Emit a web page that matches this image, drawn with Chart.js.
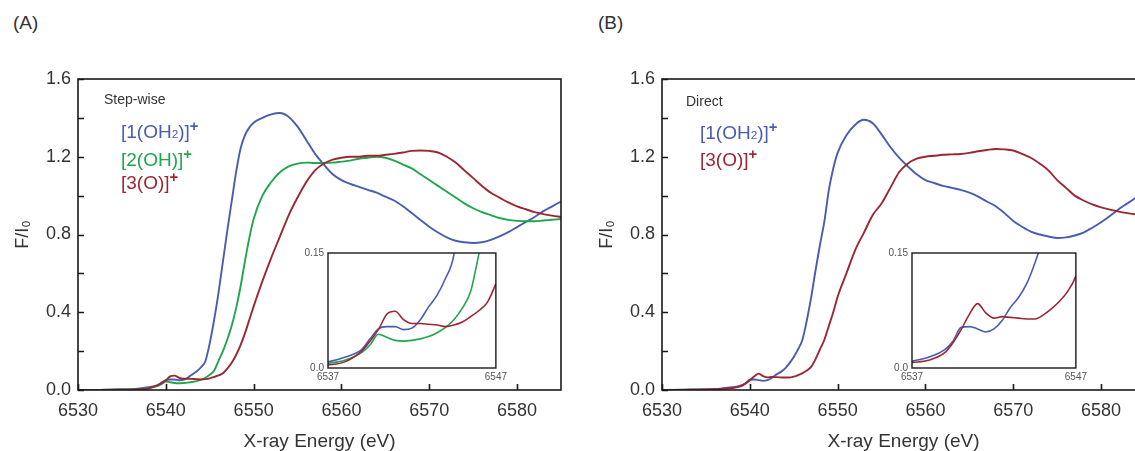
<!DOCTYPE html>
<html>
<head>
<meta charset="utf-8">
<script src="https://cdn.jsdelivr.net/npm/chart.js@4/dist/chart.umd.min.js"></script>
<style>
  body { margin: 0; width: 1135px; height: 451px; overflow: hidden; background: #fff; position: relative;
         font-family: "Liberation Sans", Arial, sans-serif; color: #333; }
  canvas { position: absolute; }
  .t { position: absolute; white-space: nowrap; line-height: 1; }
  .t sub { font-size: 62%; vertical-align: 0.05em; }
  .t sup { font-size: 78%; font-weight: bold; vertical-align: 0.5em; }
  .blue { color: #4a5cb2; } .green { color: #20a64e; } .red { color: #9b2733; }
</style>
</head>
<body>
<div class="t" style="left:13px;top:13px;font-size:19px;">(A)</div>
<div class="t" style="left:598px;top:13px;font-size:19px;">(B)</div>

<canvas id="mainA" width="575" height="451" style="left:0;top:0"></canvas>
<canvas id="insetA" width="220" height="150" style="left:290px;top:240px"></canvas>
<canvas id="mainB" width="575" height="451" style="left:584px;top:0"></canvas>
<canvas id="insetB" width="220" height="150" style="left:870px;top:240px"></canvas>

<div class="t" style="left:104px;top:92px;font-size:14px;">Step-wise</div>
<div class="t blue" style="left:121px;top:119px;font-size:19px;">[1(OH<sub>2</sub>)]<sup>+</sup></div>
<div class="t green" style="left:121px;top:147px;font-size:19px;">[2(OH)]<sup>+</sup></div>
<div class="t red" style="left:121px;top:170px;font-size:19px;">[3(O)]<sup>+</sup></div>

<div class="t" style="left:686px;top:94px;font-size:14px;">Direct</div>
<div class="t blue" style="left:700px;top:120px;font-size:19px;">[1(OH<sub>2</sub>)]<sup>+</sup></div>
<div class="t red" style="left:700px;top:147px;font-size:19px;">[3(O)]<sup>+</sup></div>

<script>
// energy grid (eV)
const energy = [6530, 6532, 6534, 6536, 6537, 6538, 6539,
  6539.5, 6540, 6540.5, 6541, 6541.5, 6542, 6542.5, 6543, 6543.5, 6544, 6544.5, 6545,
  6545.5, 6546, 6546.5, 6547, 6547.5, 6548, 6548.5, 6549, 6549.5, 6550,
  6551, 6552, 6553, 6554, 6555, 6556, 6557, 6558, 6559, 6560,
  6561, 6562, 6563, 6564, 6565, 6566, 6567, 6568, 6569, 6570,
  6571, 6572, 6573, 6574, 6575, 6576, 6577, 6578, 6579, 6580,
  6581, 6582, 6583, 6584, 6585];

// panel A, step-wise
const stepOH2 = [0, 0, 0.002, 0.004, 0.008, 0.014, 0.024,
  0.038, 0.051, 0.054, 0.054, 0.050, 0.052, 0.063, 0.080, 0.095, 0.117, 0.148, 0.24,
  0.36, 0.50, 0.66, 0.82, 0.97, 1.12, 1.24, 1.31, 1.35, 1.375,
  1.40, 1.418, 1.425, 1.405, 1.355, 1.285, 1.215, 1.16, 1.11, 1.08,
  1.06, 1.045, 1.03, 1.015, 0.995, 0.975, 0.945, 0.91, 0.875, 0.84,
  0.81, 0.785, 0.768, 0.76, 0.756, 0.76, 0.772, 0.79, 0.812, 0.838,
  0.865, 0.89, 0.92, 0.945, 0.97];
const stepOH = [0, 0, 0.002, 0.003, 0.006, 0.010, 0.020,
  0.030, 0.044, 0.040, 0.036, 0.035, 0.036, 0.038, 0.041, 0.046, 0.053, 0.063, 0.078,
  0.10, 0.15, 0.20, 0.26, 0.33, 0.42, 0.53, 0.66, 0.78, 0.88,
  1.00, 1.07, 1.12, 1.15, 1.165, 1.17, 1.168, 1.168, 1.17, 1.175,
  1.18, 1.19, 1.195, 1.20, 1.195, 1.18, 1.16, 1.14, 1.11, 1.08,
  1.05, 1.02, 0.99, 0.96, 0.935, 0.915, 0.90, 0.885, 0.875, 0.87,
  0.868, 0.868, 0.872, 0.876, 0.88];
const stepO = [0, 0, 0.001, 0.002, 0.004, 0.008, 0.022,
  0.035, 0.050, 0.070, 0.074, 0.063, 0.058, 0.058, 0.057, 0.056, 0.054, 0.056, 0.060,
  0.067, 0.075, 0.086, 0.11, 0.14, 0.18, 0.23, 0.29, 0.36, 0.43,
  0.56, 0.68, 0.79, 0.90, 0.99, 1.07, 1.13, 1.165, 1.185, 1.195,
  1.20, 1.20, 1.205, 1.205, 1.21, 1.215, 1.222, 1.23, 1.232, 1.23,
  1.222, 1.20, 1.17, 1.13, 1.09, 1.05, 1.015, 0.99, 0.965, 0.945,
  0.93, 0.915, 0.905, 0.897, 0.89];

// panel B, direct
const directOH2 = [0, 0.001, 0.003, 0.005, 0.009, 0.014, 0.024,
  0.035, 0.053, 0.054, 0.051, 0.047, 0.051, 0.062, 0.079, 0.092, 0.110, 0.137, 0.17,
  0.21, 0.26, 0.36, 0.48, 0.62, 0.75, 0.87, 1.03, 1.14, 1.22,
  1.31, 1.365, 1.39, 1.372, 1.315, 1.25, 1.195, 1.15, 1.11, 1.08,
  1.065, 1.05, 1.04, 1.03, 1.015, 0.995, 0.97, 0.945, 0.91, 0.87,
  0.84, 0.815, 0.80, 0.79, 0.782, 0.785, 0.795, 0.81, 0.835, 0.863,
  0.895, 0.93, 0.96, 0.99, 1.02];
const directO = [0, 0, 0.002, 0.004, 0.007, 0.010, 0.020,
  0.033, 0.050, 0.070, 0.084, 0.072, 0.065, 0.067, 0.066, 0.065, 0.064, 0.064, 0.069,
  0.077, 0.087, 0.10, 0.12, 0.16, 0.21, 0.26, 0.33, 0.40, 0.48,
  0.60, 0.72, 0.81, 0.90, 0.96, 1.04, 1.12, 1.165, 1.19, 1.20,
  1.205, 1.21, 1.212, 1.214, 1.22, 1.228, 1.235, 1.24, 1.238, 1.232,
  1.215, 1.195, 1.165, 1.13, 1.08, 1.04, 1.00, 0.975, 0.955, 0.94,
  0.928, 0.918, 0.91, 0.903, 0.897];

const xTicks = [6530, 6540, 6550, 6560, 6570, 6580];
const yTicks = [0, 0.2, 0.4, 0.6, 0.8, 1.0, 1.2, 1.4, 1.6];
const insetXTicks = [6537, 6547];
const insetYTicks = [0, 0.15];

const BLUE = '#4a5cb2', GREEN = '#20a64e', RED = '#9b2733';
const FONT = '"Liberation Sans", Arial, "DejaVu Sans", sans-serif';

const framePlugin = {
  id: 'frame',
  beforeDatasetsDraw(chart, args, opts) {
    const { ctx, chartArea: a } = chart;
    ctx.save();
    ctx.fillStyle = '#fff';
    ctx.fillRect(a.left, a.top, a.right - a.left, a.bottom - a.top);
    ctx.restore();
  },
  afterDatasetsDraw(chart, args, opts) {
    const { ctx, chartArea: a, scales: { x, y } } = chart;
    ctx.save();
    ctx.strokeStyle = '#1a1a1a';
    ctx.lineWidth = opts.lineWidth;
    if (opts.tick) {
      ctx.beginPath();
      x.ticks.forEach(t => {
        const px = Math.round(x.getPixelForValue(t.value)) + 0.5;
        ctx.moveTo(px, a.bottom); ctx.lineTo(px, a.bottom - opts.tick);
      });
      y.ticks.forEach(t => {
        const py = Math.round(y.getPixelForValue(t.value)) + 0.5;
        ctx.moveTo(a.left, py); ctx.lineTo(a.left + opts.tick, py);
      });
      ctx.stroke();
    }
    ctx.strokeRect(a.left, a.top, a.right - a.left, a.bottom - a.top);
    ctx.restore();
  }
};

function series(vals, color, width) {
  return {
    data: energy.map((e, i) => ({ x: e, y: vals[i] })),
    borderColor: color, borderWidth: width,
    pointRadius: 0, cubicInterpolationMode: 'monotone', fill: false
  };
}

function mainChart(id, sets) {
  return new Chart(document.getElementById(id), {
    type: 'line',
    data: { datasets: sets.map(s => series(s[0], s[1], 1.9)) },
    plugins: [framePlugin],
    options: {
      responsive: false, animation: false,
      layout: { padding: { top: 79, right: 14, left: 0, bottom: 0 } },
      plugins: { legend: { display: false }, tooltip: { enabled: false },
                 frame: { lineWidth: 1.6, tick: 6 } },
      scales: {
        x: {
          type: 'linear', min: 6530, max: 6585,
          afterBuildTicks: s => { s.ticks = xTicks.map(v => ({ value: v })); },
          afterFit: s => { s.height = 61; },
          grid: { display: false, drawTicks: false }, border: { display: false },
          ticks: { autoSkip: false, maxRotation: 0, padding: 10, color: '#333',
                   font: { family: FONT, size: 18 }, callback: v => String(v) },
          title: { display: true, text: 'X-ray Energy (eV)', color: '#333',
                   font: { family: FONT, size: 19, lineHeight: 1 }, padding: { top: 0, bottom: 0 } }
        },
        y: {
          min: 0, max: 1.6,
          afterBuildTicks: s => { s.ticks = yTicks.map(v => ({ value: v })); },
          afterFit: s => { s.width = 78; },
          grid: { display: false, drawTicks: false }, border: { display: false },
          ticks: { autoSkip: false, padding: 7, color: '#333', font: { family: FONT, size: 18 },
                   callback: v => (Math.round(v * 10) % 4 === 0 ? v.toFixed(1) : '') },
          title: { display: true, text: 'F/I₀', color: '#333',
                   font: { family: FONT, size: 18 }, padding: { top: 12, bottom: 0 } }
        }
      }
    }
  });
}

function insetChart(id, sets, yWidth, rightPad) {
  return new Chart(document.getElementById(id), {
    type: 'line',
    data: { datasets: sets.map(s => series(s[0], s[1], 1.6)) },
    plugins: [framePlugin],
    options: {
      responsive: false, animation: false,
      layout: { padding: { top: 13, right: rightPad, left: 0, bottom: 0 } },
      plugins: { legend: { display: false }, tooltip: { enabled: false },
                 frame: { lineWidth: 1.4, tick: 0 } },
      scales: {
        x: {
          type: 'linear', min: 6537, max: 6547,
          afterBuildTicks: s => { s.ticks = insetXTicks.map(v => ({ value: v })); },
          afterFit: s => { s.height = 22; },
          grid: { display: false, drawTicks: false }, border: { display: false },
          ticks: { autoSkip: false, maxRotation: 0, padding: 3, color: '#555',
                   font: { family: FONT, size: 10 }, callback: v => String(v) }
        },
        y: {
          min: 0, max: 0.15,
          afterBuildTicks: s => { s.ticks = insetYTicks.map(v => ({ value: v })); },
          afterFit: s => { s.width = yWidth; },
          grid: { display: false, drawTicks: false }, border: { display: false },
          ticks: { autoSkip: false, padding: 4, color: '#555', font: { family: FONT, size: 10 },
                   callback: v => (v === 0 ? '0.0' : String(v)) }
        }
      }
    }
  });
}

const setsA = [[stepO, RED], [stepOH, GREEN], [stepOH2, BLUE]];
const setsB = [[directO, RED], [directOH2, BLUE]];
mainChart('mainA', setsA);
insetChart('insetA', setsA, 38, 11);
mainChart('mainB', setsB);
insetChart('insetB', setsB, 42, 8);
</script>
</body>
</html>
